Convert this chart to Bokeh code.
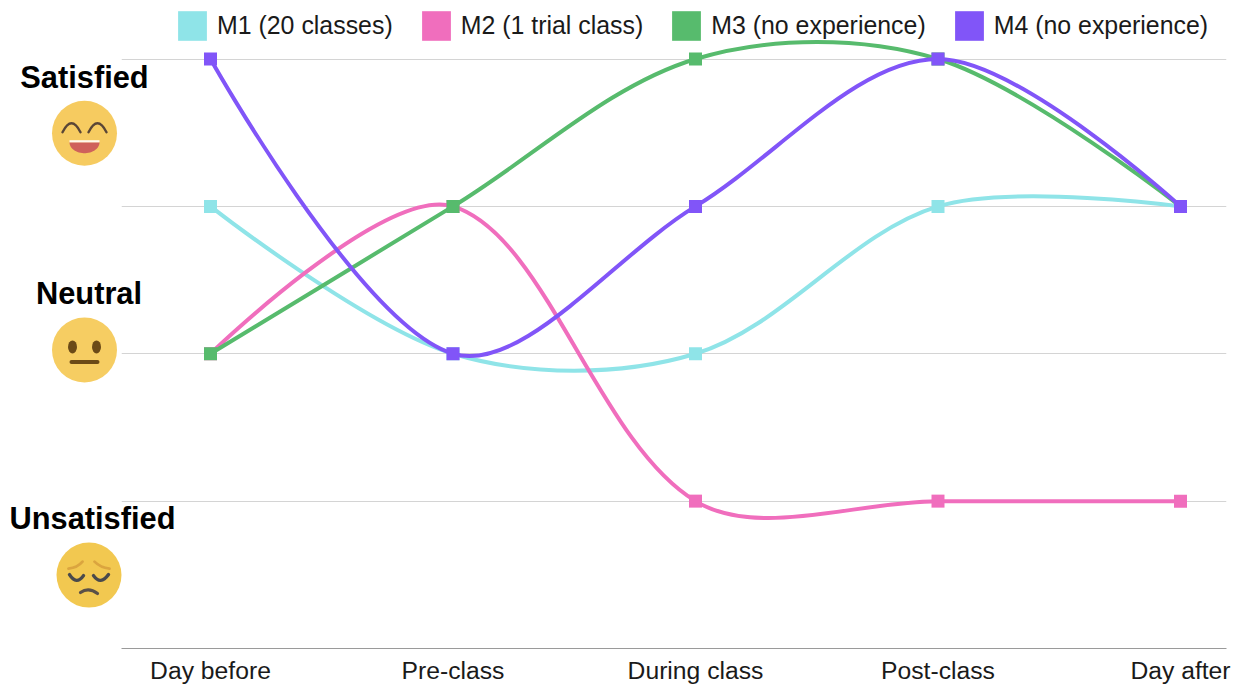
from bokeh.embed import file_html
from bokeh.resources import INLINE
from bokeh.models import ColumnDataSource, FixedTicker, Legend, LegendItem, Range1d
from bokeh.plotting import figure
from bokeh.core.properties import value
import numpy as np

# Satisfaction score per stage: 1 unsatisfied, 2 neutral, 4 satisfied
stages = ["Day before", "Pre-class", "During class", "Post-class", "Day after"]
m1 = [3, 2, 2, 3, 3]
m2 = [2, 3, 1, 1, 1]
m3 = [2, 3, 4, 4, 3]
m4 = [4, 2, 3, 4, 3]
series = [
    ("M1 (20 classes)", m1, "#8FE4E8"),
    ("M2 (1 trial class)", m2, "#F06EBD"),
    ("M3 (no experience)", m3, "#57BB6D"),
    ("M4 (no experience)", m4, "#8155F8"),
]
mood_labels = ["Satisfied", "Neutral", "Unsatisfied"]
font = "Liberation Sans"

# Plot frame geometry in page pixels
W, H = 1241, 686
LEFT, RIGHT, TOP, BOTTOM = 121, 1226, 0, 649
X0, DX = 210.0, 242.5
DY = 147.6

p = figure(
    width=W, height=H, output_backend="svg", toolbar_location=None,
    x_range=Range1d((LEFT - X0) / DX, (RIGHT - X0) / DX),
    y_range=Range1d(0, (BOTTOM - TOP) / DY),
    min_border_left=LEFT, min_border_right=W - RIGHT,
    min_border_top=TOP, min_border_bottom=H - BOTTOM,
    outline_line_color=None,
)

# Page pixel to data coordinate helpers, for the decorations beside the frame
def px(v):
    return (np.asarray(v, dtype=float) - X0) / DX

def py(v):
    return (BOTTOM - np.asarray(v, dtype=float)) / DY

# Axes and grid
p.xaxis.ticker = FixedTicker(ticks=list(range(len(stages))))
p.xaxis.major_label_overrides = {i: s for i, s in enumerate(stages)}
p.xaxis.major_label_text_font = font
p.xaxis.major_label_text_font_size = "24.7px"
p.xaxis.major_label_text_color = "#1a1a1a"
p.xaxis.major_label_standoff = 8
p.xaxis.major_tick_in = 0
p.xaxis.major_tick_out = 0
p.xaxis.minor_tick_in = 0
p.xaxis.minor_tick_out = 0
p.xaxis.major_tick_line_color = None
p.xaxis.minor_tick_line_color = None
p.xaxis.axis_line_color = "#9a9a9a"
p.xaxis.axis_line_width = 1
p.yaxis.visible = False
p.xgrid.visible = False
p.ygrid.ticker = FixedTicker(ticks=[1, 2, 3, 4])
p.ygrid.grid_line_color = "#d4d4d4"
p.ygrid.grid_line_width = 1


def smooth_segments(ys, smoothing=1 / 3):
    """Cubic segments whose handles follow the neighbouring points,
    each handle sized by the on-screen length of its own segment."""
    pts = np.column_stack([np.arange(len(ys), dtype=float), np.asarray(ys, dtype=float)])
    scale = np.array([DX, DY])
    n = len(pts)
    before = pts.copy()
    after = pts.copy()
    for i in range(1, n - 1):
        d1 = np.linalg.norm((pts[i] - pts[i - 1]) * scale)
        d2 = np.linalg.norm((pts[i + 1] - pts[i]) * scale)
        v = pts[i + 1] - pts[i - 1]
        before[i] = pts[i] - v * smoothing * d1 / (d1 + d2)
        after[i] = pts[i] + v * smoothing * d2 / (d1 + d2)
    return dict(
        x0=pts[:-1, 0], y0=pts[:-1, 1], x1=pts[1:, 0], y1=pts[1:, 1],
        cx0=after[:-1, 0], cy0=after[:-1, 1], cx1=before[1:, 0], cy1=before[1:, 1],
    )


# Series curves, each with square markers on top
items = []
nan = float("nan")
for name, ys, color in series:
    p.bezier("x0", "y0", "x1", "y1", "cx0", "cy0", "cx1", "cy1",
             source=ColumnDataSource(smooth_segments(ys)),
             line_color=color, line_width=4)
    p.scatter(list(range(len(ys))), ys, marker="square", size=13,
              fill_color=color, line_color=color, line_width=0)
    swatch = p.quad(left=[nan], right=[nan], top=[nan], bottom=[nan],
                    fill_color=color, line_color=None)
    items.append(LegendItem(label=name, renderers=[swatch]))

legend = Legend(
    items=items, orientation="horizontal", location=(53, 604),
    glyph_width=36, glyph_height=37, label_standoff=7, spacing=25,
    margin=0, padding=0, border_line_color=None, background_fill_color=None,
    label_text_font=font, label_text_font_size="24.9px", label_text_color="#1a1a1a",
    label_height=37,
)
p.add_layout(legend, "center")


# Mood labels and faces, painted above the frame clip
LVL = "annotation"
for label, lx, ly in zip(mood_labels, [84, 88.5, 92], [77, 293, 519]):
    p.text(px([lx]), py([ly]), text=[label], text_font=value(font), text_font_style="bold",
           text_font_size="30.8px", text_align="center", text_baseline="alphabetic",
           text_color="#000000", level=LVL)


def face(cx, cy, color):
    p.scatter(px([cx]), py([cy]), marker="circle", size=65, fill_color=color,
              line_color=None, level=LVL)


def stroke(x0, y0, cx, cy, x1, y1, color, width):
    p.quadratic(px([x0]), py([y0]), px([x1]), py([y1]), px([cx]), py([cy]),
                line_color=color, line_width=width, line_cap="round", level=LVL)


# Satisfied
face(84, 133, "#F6CB60")
stroke(62, 132, 71, 114, 80, 132, "#5A4636", 2.4)
stroke(88, 132, 97, 114, 106, 132, "#5A4636", 2.4)
t = np.linspace(0, np.pi, 30)
p.patch(px(84 + 15 * np.cos(t)), py(142 + 11 * np.sin(t)), fill_color="#CF615B",
        line_color=None, level=LVL)
p.line(px([69, 99]), py([141, 141]), line_color="#FFF8EC", line_width=2.2, level=LVL)

# Neutral
face(84, 350, "#F6CD62")
p.ellipse(px([72, 96]), py([347, 347]), width=9, height=13, width_units="screen",
          height_units="screen", fill_color="#6B4A17", line_color=None, level=LVL)
p.line(px([71, 97]), py([362, 362]), line_color="#6B4A17", line_width=4, line_cap="round", level=LVL)

# Unsatisfied
face(88.5, 575.5, "#F2C850")
stroke(68, 569, 77, 568, 82, 562, "#DBA53F", 2.8)
stroke(94, 562, 100, 568, 109, 569, "#DBA53F", 2.8)
stroke(69, 575, 76, 586, 83, 576, "#4A4A4C", 3.4)
stroke(93, 576, 100, 586, 108, 575, "#4A4A4C", 3.4)
stroke(80, 593, 88, 587, 97, 594, "#5A5048", 3.2)

open("out.html", "w").write(file_html(p, INLINE))
